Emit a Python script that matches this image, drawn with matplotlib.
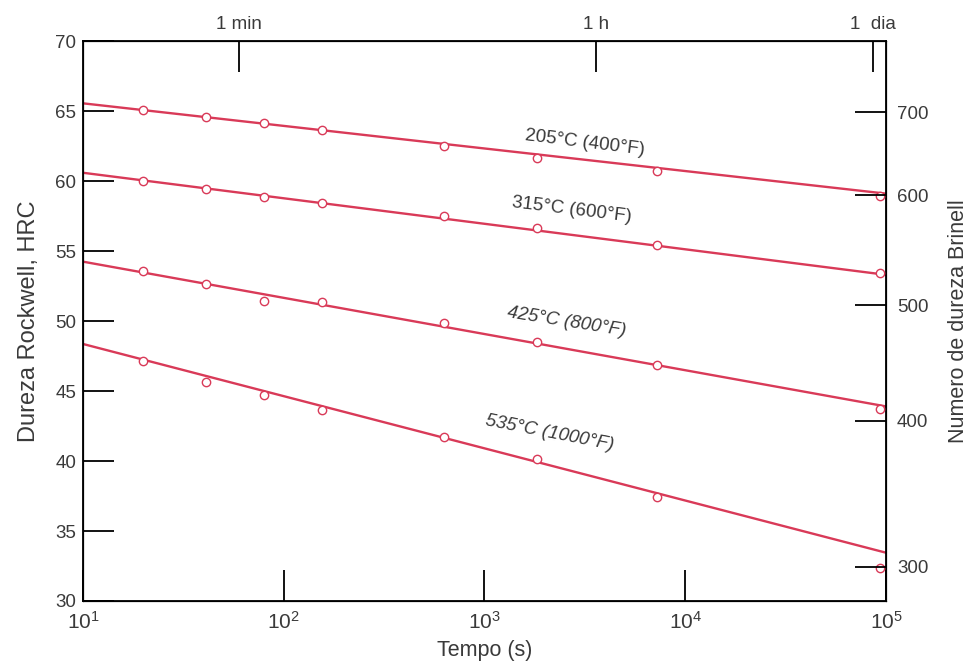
import numpy as np
import matplotlib.pyplot as plt

plt.rcParams["font.family"] = ["Liberation Sans", "DejaVu Sans"]

# tempo de revenimento (s) dos pontos medidos
tempo = [20, 41, 80, 155, 630, 1820, 7200, 93000]

# dureza HRC medida em cada temperatura
hrc_205 = [65.07, 64.55, 64.12, 63.62, 62.5, 61.62, 60.71, 58.95]
hrc_315 = [60.02, 59.43, 58.88, 58.4, 57.5, 56.62, 55.43, 53.41]
hrc_425 = [53.6, 52.64, 51.45, 51.38, 49.83, 48.52, 46.86, 43.69]
hrc_535 = [47.16, 45.66, 44.71, 43.64, 41.69, 40.14, 37.45, 32.34]

# retas ajustadas: HRC em t = 10 s e t = 1e5 s
reta_t = [10, 1e5]
reta_205 = [65.55, 59.1]
reta_315 = [60.59, 53.3]
reta_425 = [54.24, 43.9]
reta_535 = [48.36, 33.45]

rotulos = ["205°C (400°F)", "315°C (600°F)", "425°C (800°F)", "535°C (1000°F)"]
rot_t = [3160, 2730, 2550, 2120]
rot_y = [62.75, 57.95, 49.9, 42.0]
rot_ang = [-7, -7, -9, -11]
rot_estilo = ["normal", "normal", "italic", "italic"]

# escala Brinell (posicao em HRC)
hb_pos = [64.93, 59.0, 51.14, 42.86, 32.43]
hb_lab = ["700", "600", "500", "400", "300"]

# eixo superior
top_t = [60, 3600, 86400]
top_lab = ["1 min", "1 h", "1  dia"]

VERM = "#d93a58"
CINZA = "#3a3a3a"

fig = plt.figure(figsize=(9.75, 6.66), dpi=100)
ax = fig.add_axes([0.0851, 0.0976, 0.8236, 0.8408])

for hrc, reta in [(hrc_205, reta_205), (hrc_315, reta_315),
                  (hrc_425, reta_425), (hrc_535, reta_535)]:
    ax.plot(reta_t, reta, color=VERM, lw=1.7, zorder=2)
    ax.plot(tempo, hrc, "o", ms=6, mfc="white", mec=VERM, mew=1.0, zorder=3)

for txt, t, y, a, st in zip(rotulos, rot_t, rot_y, rot_ang, rot_estilo):
    ax.text(t, y, txt, rotation=a, ha="center", va="center",
            fontsize=13.5, color=CINZA, style=st, rotation_mode="anchor")

ax.set_xscale("log")
ax.set_xlim(10, 1e5)
ax.set_ylim(30, 70)
ax.set_yticks([30, 35, 40, 45, 50, 55, 60, 65, 70])
ax.set_xticks([10, 100, 1000, 10000, 100000])
ax.minorticks_off()
ax.tick_params(axis="both", direction="in", length=22, width=1.3,
               labelsize=13.5, labelcolor=CINZA, pad=5)
ax.tick_params(axis="x", labelsize=15, pad=7)
ax.set_xlabel("Tempo (s)", fontsize=15.5, color=CINZA, labelpad=5)
ax.set_ylabel("Dureza Rockwell, HRC", fontsize=17, color=CINZA, labelpad=11)
for s in ax.spines.values():
    s.set_linewidth(1.3)

axr = ax.twinx()
axr.set_ylim(30, 70)
axr.set_yticks(hb_pos)
axr.set_yticklabels(hb_lab)
axr.tick_params(axis="y", direction="in", length=22, width=1.3,
                labelsize=13.5, labelcolor=CINZA, pad=8)
axr.set_ylabel("Numero de dureza Brinell", fontsize=15.5, color=CINZA,
               labelpad=14)

axt = ax.twiny()
axt.set_xscale("log")
axt.set_xlim(10, 1e5)
axt.set_xticks(top_t)
axt.set_xticklabels(top_lab)
axt.minorticks_off()
axt.tick_params(axis="x", direction="in", length=22, width=1.3,
                labelsize=13.5, labelcolor=CINZA, pad=6)

fig.savefig("out.png", dpi=100)
